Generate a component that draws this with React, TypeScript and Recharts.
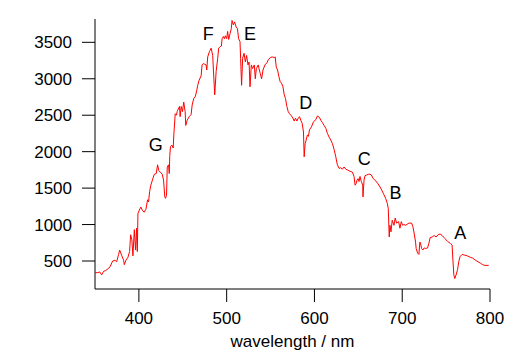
import React from 'react';
import { LineChart, Line, XAxis, YAxis, ReferenceDot, Label } from 'recharts';

// solar spectrum (nm, intensity)
const wavelengths = [
  350.5, 353.1, 355.3, 357.6, 359.9, 362.2, 365.6, 367.5, 370.1, 372.7, 374.7, 376.9, 378.1, 380.3,
  382.6, 383.4, 385.2, 387.5, 389.4, 390.6, 392.0, 393.2, 394.8, 396.2, 397.4, 398.2, 398.9, 400.5,
  402.3, 404.2, 406.1, 408.0, 409.9, 411.0, 412.2, 413.6, 415.9, 417.5, 419.8, 421.3, 422.7, 424.3,
  426.6, 428.1, 429.5, 430.3, 431.5, 432.3, 433.8, 434.6, 435.2, 436.0, 437.5, 439.1, 439.8, 441.4,
  442.8, 443.6, 444.3, 446.3, 447.0, 448.2, 449.7, 451.1, 452.7, 453.4, 455.0, 457.3, 459.5, 460.7,
  462.5, 464.4, 465.9, 467.0, 468.6, 470.9, 472.0, 473.5, 474.7, 476.6, 477.3, 478.4, 480.3, 482.3,
  484.1, 485.2, 486.4, 488.0, 489.8, 490.9, 492.5, 494.0, 494.8, 496.3, 497.4, 498.5, 500.0, 501.1,
  502.3, 503.9, 505.3, 506.1, 507.6, 509.1, 510.7, 512.2, 513.6, 515.2, 515.9, 517.0, 518.2, 519.8,
  521.3, 522.7, 524.3, 525.5, 526.6, 528.1, 529.5, 531.5, 532.6, 533.8, 536.0, 537.2, 538.3, 539.8,
  541.4, 543.6, 545.9, 547.4, 549.7, 551.9, 554.2, 555.3, 556.5, 558.0, 559.5, 561.0, 562.5, 564.1,
  565.6, 567.0, 568.6, 570.1, 571.6, 573.2, 575.5, 576.9, 578.4, 580.0, 581.5, 583.0, 584.5, 586.0,
  587.5, 588.3, 589.4, 590.6, 592.0, 593.2, 594.3, 596.6, 598.9, 601.6, 603.4, 605.7, 607.3, 609.1,
  611.0, 613.0, 614.8, 616.7, 618.6, 620.5, 622.4, 624.3, 626.1, 628.1, 630.0, 631.8, 633.8, 635.7,
  637.5, 640.6, 643.2, 645.1, 646.3, 647.4, 648.5, 649.7, 650.8, 651.9, 653.4, 655.0, 655.3, 656.5,
  657.6, 659.5, 661.4, 663.3, 664.8, 667.0, 669.8, 672.4, 675.5, 678.4, 681.1, 683.0, 684.1, 685.2,
  686.0, 687.2, 688.6, 690.6, 692.0, 693.6, 695.9, 697.4, 698.9, 700.5, 701.9, 703.9, 707.6, 710.7,
  712.2, 713.3, 715.2, 715.9, 717.5, 719.0, 720.1, 721.3, 722.1, 723.5, 725.0, 726.6, 728.9, 730.3,
  731.8, 734.1, 736.4, 738.6, 740.9, 743.2, 745.5, 748.5, 751.6, 755.0, 756.8, 757.6, 758.8, 759.9,
  761.4, 763.0, 764.4, 765.9, 768.2, 771.3, 774.3, 777.7, 780.3, 783.4, 786.4, 789.1, 791.7, 794.0,
  796.6, 798.5,
];

const intensities = [
  340, 340, 350, 310, 360, 370, 400, 430, 500, 510, 490, 590, 650, 580,
  510, 450, 510, 550, 630, 860, 790, 570, 930, 650, 950, 630, 1150, 1200,
  1240, 1190, 1170, 1210, 1340, 1310, 1450, 1540, 1630, 1690, 1700, 1820, 1740, 1720,
  1690, 1610, 1380, 1360, 1400, 1790, 1820, 1700, 1950, 2070, 2090, 2050, 2230, 2520,
  2500, 2550, 2570, 2620, 2480, 2620, 2550, 2680, 2550, 2360, 2430, 2480, 2510, 2640,
  2730, 2760, 2840, 2910, 2980, 3040, 3190, 3210, 3200, 3190, 3120, 3300, 3370, 3420,
  3320, 3050, 2780, 3100, 3280, 3420, 3440, 3450, 3550, 3580, 3550, 3590, 3550, 3650,
  3540, 3620, 3690, 3800, 3740, 3780, 3710, 3690, 3550, 3510, 3280, 2910, 3280, 3350,
  3230, 3320, 3190, 3230, 2890, 3190, 3140, 3190, 3000, 3140, 3190, 3120, 3070, 3000,
  3120, 3190, 3220, 3260, 3290, 3300, 3290, 3300, 3160, 3120, 3030, 2960, 2940, 2890,
  2780, 2730, 2620, 2550, 2520, 2500, 2460, 2420, 2460, 2420, 2460, 2480, 2430, 2390,
  2270, 1930, 2110, 2160, 2230, 2210, 2300, 2340, 2410, 2440, 2490, 2470, 2430, 2400,
  2360, 2320, 2250, 2200, 2160, 2110, 2030, 1930, 1820, 1770, 1780, 1760, 1790, 1760,
  1750, 1730, 1720, 1660, 1540, 1560, 1610, 1630, 1590, 1660, 1590, 1540, 1380, 1610,
  1670, 1680, 1690, 1690, 1680, 1630, 1600, 1560, 1500, 1430, 1360, 1290, 1220, 830,
  990, 900, 1060, 990, 1090, 1020, 1040, 950, 1040, 990, 1000, 990, 1020, 1020,
  970, 900, 760, 670, 610, 590, 760, 720, 670, 650, 680, 670, 680, 740,
  820, 830, 850, 830, 860, 870, 850, 810, 770, 740, 720, 540, 310, 260,
  310, 380, 490, 560, 590, 580, 570, 550, 540, 510, 490, 470, 450, 440,
  440, 440,
];

const xTicks = [400, 500, 600, 700, 800];
const yTicks = [500, 1000, 1500, 2000, 2500, 3000, 3500];

// Fraunhofer line labels
const lineNames = ['G', 'F', 'E', 'D', 'C', 'B', 'A'];
const lineLabelX = [419.2, 479, 526.7, 590, 656.7, 692.3, 766];
const lineLabelY = [2100, 3626, 3626, 2669, 1903, 1432, 891];

const spectrum = wavelengths.map((w, i) => ({ w, v: intensities[i] }));

const font = '"Liberation Sans", Arial, sans-serif';

export default function App() {
  return (
    <div style={{ position: 'absolute', left: 0, top: 0, width: 528, height: 351, background: '#fff' }}>
      <LineChart
        width={528}
        height={351}
        data={spectrum}
        margin={{ top: 19, right: 38, bottom: 4, left: 10 }}
        style={{ fontFamily: font }}
      >
        <XAxis
          dataKey="w"
          type="number"
          domain={[350, 800]}
          ticks={xTicks}
          allowDataOverflow
          height={58}
          stroke="#000"
          tickSize={13}
          tickMargin={10}
          tick={{ fill: '#000', fontSize: 17 }}
        >
          <Label value="wavelength / nm" position="insideBottom" offset={0} fill="#000" fontSize={17} />
        </XAxis>
        <YAxis
          type="number"
          domain={[116, 3820]}
          ticks={yTicks}
          allowDataOverflow
          width={85}
          stroke="#000"
          tickSize={13}
          tickMargin={10}
          tick={{ fill: '#000', fontSize: 17 }}
        />
        <Line
          type="linear"
          dataKey="v"
          stroke="#ff0000"
          strokeWidth={1}
          dot={false}
          isAnimationActive={false}
        />
        {lineNames.map((name, i) => (
          <ReferenceDot
            key={name}
            x={lineLabelX[i]}
            y={lineLabelY[i]}
            r={0}
            fill="none"
            stroke="none"
            label={{ value: name, position: 'center', fill: '#000', fontSize: 18 }}
          />
        ))}
      </LineChart>
    </div>
  );
}
